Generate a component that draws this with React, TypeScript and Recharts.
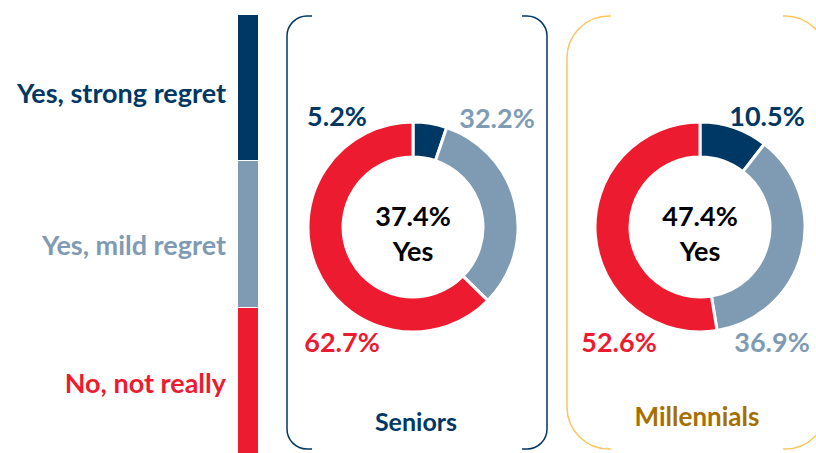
import { PieChart, Pie, Cell } from 'recharts';

const CATEGORIES = ['Yes, strong regret', 'Yes, mild regret', 'No, not really'];
const SENIORS = [5.2, 32.2, 62.7];
const MILLENNIALS = [10.5, 36.9, 52.6];
const GROUPS = ['Seniors', 'Millennials'];

const COLORS = ['#003865', '#7f9bb4', '#ed1b2f'];
const FONT = 'Lato, "Open Sans", sans-serif';

// where each percent label sits, relative to its donut's centre
const SENIOR_LABEL_POS = [[-76, -112], [84, -110], [-71, 114]];
const MILLENNIAL_LABEL_POS = [[67, -112], [72, 114], [-81, 114]];

const toRows = (vals: number[]) => CATEGORIES.map((name, i) => ({ name, value: vals[i] }));

function makeLabel(vals: number[], pos: number[][]) {
  const yes = (vals[0] + vals[1]).toFixed(1);
  return (p: any) => {
    const { cx, cy, index, value } = p;
    const [dx, dy] = pos[index];
    return (
      <g>
        <text x={cx + dx} y={cy + dy} fill={COLORS[index]} textAnchor="middle" dominantBaseline="central"
          fontFamily={FONT} fontWeight={700} fontSize={27}>
          {value.toFixed(1)}%
        </text>
        {index === 0 && (
          <text x={cx} y={cy} fill="#000" textAnchor="middle" fontFamily={FONT} fontWeight={700} fontSize={27}>
            <tspan x={cx} dy={-12} dominantBaseline="central">{yes}%</tspan>
            <tspan x={cx} dy={35} dominantBaseline="central">Yes</tspan>
          </text>
        )}
      </g>
    );
  };
}

function Brackets() {
  return (
    <svg width={816} height={453} style={{ position: 'absolute', left: 0, top: 0 }} fill="none">
      <g stroke="#003865" strokeWidth={1.5}>
        <path d="M312,16 H307 A20,20 0 0 0 287,36 V429 A20,20 0 0 0 307,449 H312" />
        <path d="M522,16 H527 A20,20 0 0 1 547,36 V429 A20,20 0 0 1 527,449 H522" />
      </g>
      <g stroke="#fdc55e" strokeWidth={1.5}>
        <path d="M611,16 H609 A42,42 0 0 0 567,58 V407 A42,42 0 0 0 609,449 H611" />
        <path d="M783,16 H785 A42,42 0 0 1 827,58 V407 A42,42 0 0 1 785,449 H783" />
      </g>
    </svg>
  );
}

export default function App() {
  const legendY = [93, 245, 383];
  return (
    <div style={{ position: 'relative', width: 816, height: 453, background: '#fff', overflow: 'hidden', fontFamily: FONT }}>
      <style>{'body{margin:0}'}</style>

      {/* legend: colour strip plus labels */}
      <div style={{ position: 'absolute', left: 238, top: 15, width: 20, height: 438, display: 'flex', flexDirection: 'column', gap: 1 }}>
        {COLORS.map((c) => <div key={c} style={{ flex: 1, background: c }} />)}
      </div>
      {CATEGORIES.map((c, i) => (
        <div key={c} style={{
          position: 'absolute', right: 816 - 226, top: legendY[i] - 18, lineHeight: '36px',
          fontSize: 27, fontWeight: 700, color: COLORS[i], whiteSpace: 'nowrap',
        }}>{c}</div>
      ))}

      <Brackets />

      <div style={{ position: 'absolute', left: 0, top: 0 }}>
        <PieChart width={816} height={453} margin={{ top: 0, right: 0, bottom: 0, left: 0 }}>
          <Pie data={toRows(SENIORS)} dataKey="value" cx={413} cy={227} innerRadius={70} outerRadius={105}
            startAngle={90} endAngle={-270} stroke="#fff" strokeWidth={3} isAnimationActive={false}
            labelLine={false} label={makeLabel(SENIORS, SENIOR_LABEL_POS)}>
            {SENIORS.map((_, i) => <Cell key={i} fill={COLORS[i]} />)}
          </Pie>
          <Pie data={toRows(MILLENNIALS)} dataKey="value" cx={700} cy={227} innerRadius={70} outerRadius={105}
            startAngle={90} endAngle={-270} stroke="#fff" strokeWidth={3} isAnimationActive={false}
            labelLine={false} label={makeLabel(MILLENNIALS, MILLENNIAL_LABEL_POS)}>
            {MILLENNIALS.map((_, i) => <Cell key={i} fill={COLORS[i]} />)}
          </Pie>
        </PieChart>
      </div>

      <div style={{ position: 'absolute', left: 316, width: 200, top: 406, textAlign: 'center', fontSize: 25, fontWeight: 700, color: '#003865' }}>
        {GROUPS[0]}
      </div>
      <div style={{ position: 'absolute', left: 597, width: 200, top: 400, textAlign: 'center', fontSize: 26, fontWeight: 700, color: '#a66f00' }}>
        {GROUPS[1]}
      </div>
    </div>
  );
}
